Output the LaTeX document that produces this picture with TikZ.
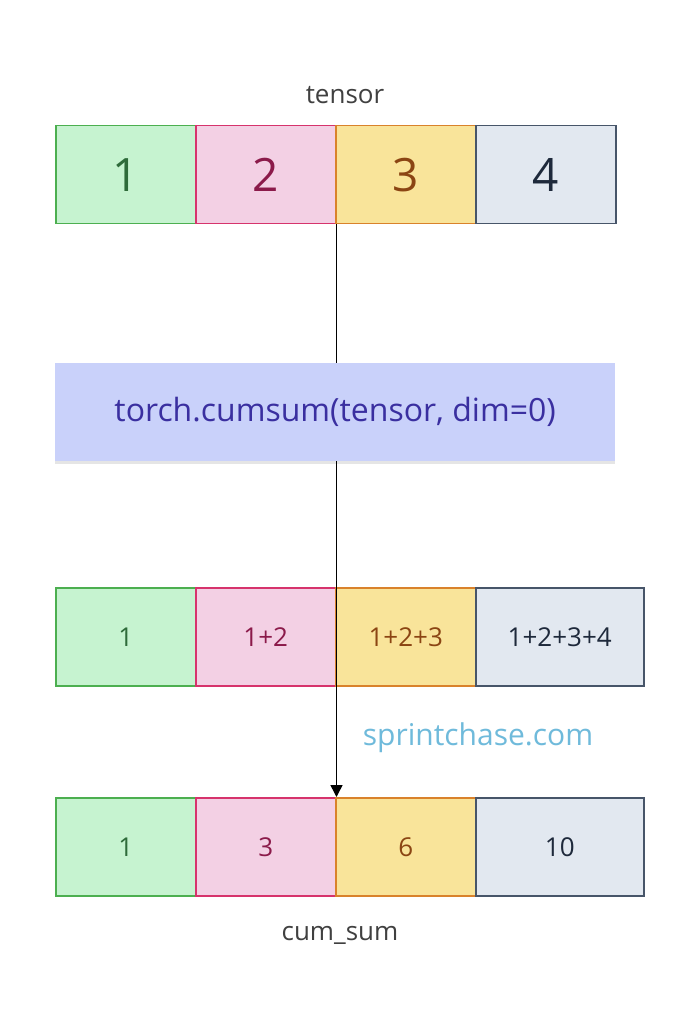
\documentclass[tikz,border=0pt]{standalone}
\usepackage{fontspec}
\setmainfont{Open Sans}
\usetikzlibrary{arrows.meta,shadows}
\definecolor{gF}{HTML}{C6F3D0}\definecolor{gD}{HTML}{4CAF50}\definecolor{gT}{HTML}{2E6B3A}
\definecolor{pF}{HTML}{F3D0E4}\definecolor{pD}{HTML}{D6336C}\definecolor{pT}{HTML}{8B1A4A}
\definecolor{yF}{HTML}{F9E49A}\definecolor{yD}{HTML}{D9822B}\definecolor{yT}{HTML}{8B4513}
\definecolor{sF}{HTML}{E2E8F0}\definecolor{sD}{HTML}{475569}\definecolor{sT}{HTML}{1E293B}
\definecolor{bF}{HTML}{C9D1FA}\definecolor{bT}{HTML}{3A2FA0}
\tikzset{cell/.style={draw=#1D,fill=#1F,text=#1T,line width=1.5pt,inner sep=0pt,anchor=north west},
lbl/.style={text=black!75,font=\fontsize{26}{30}\selectfont}}
\begin{document}
\begin{tikzpicture}[x=1pt,y=-1pt]
\useasboundingbox (0,0) rectangle (700,1024);
\fill[white] (0,0) rectangle (700,1024);
\node[lbl] (t) at (345,95) {tensor};
\foreach \c/\x/\w/\v [count=\i] in {g/55/140/1,p/195/140/2,y/335/140/3,s/475/140/4}
  \node[cell=\c,minimum width=\w,minimum height=98,font=\fontsize{46}{50}\selectfont] (a\i) at (\x,125) {\v};
\node[fill=bF,text=bT,minimum width=560,minimum height=98,anchor=north west,font=\fontsize{32}{38}\selectfont,drop shadow={opacity=0.2,shadow xshift=0pt,shadow yshift=-3pt}] (op) at (55,363) {torch.cumsum(tensor, dim=0)};
\foreach \c/\x/\w/\v [count=\i] in {g/55/140/1,p/195/140/1+2,y/335/140/1+2+3,s/475/168/1+2+3+4}
  \node[cell=\c,minimum width=\w,minimum height=98,font=\fontsize{26}{30}\selectfont] (b\i) at (\x,587) {\v};
\foreach \c/\x/\w/\v [count=\i] in {g/55/140/1,p/195/140/3,y/335/140/6,s/475/168/10}
  \node[cell=\c,minimum width=\w,minimum height=98,font=\fontsize{26}{30}\selectfont] (c\i) at (\x,797) {\v};
\node[lbl] (cs) at (340,935) {cum\_sum};
\node[text=blue!30!cyan!60!gray,font=\fontsize{30}{34}\selectfont,text opacity=0.7] (wm) at (478,738) {sprintchase.com};
\draw[line width=1.5pt] (a2.south east) -- (op.north -| a2.south east);
\draw[line width=1.5pt,-{Triangle[length=12pt,width=12pt]}] (op.south -| a2.south east) -- (c2.north east);
\end{tikzpicture}
\end{document}
